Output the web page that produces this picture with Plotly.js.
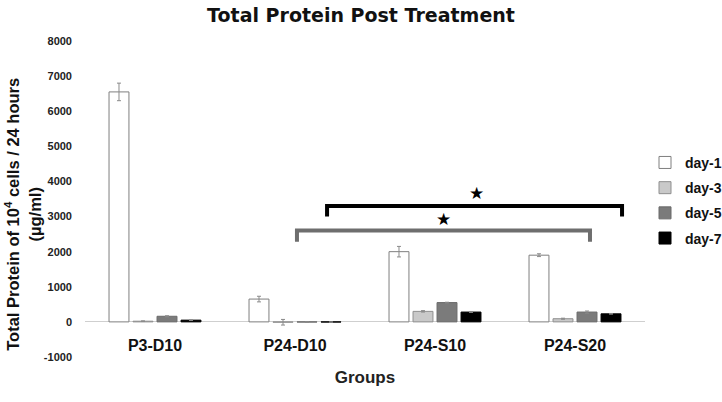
<!DOCTYPE html>
<html>
<head>
<meta charset="utf-8">
<script src="https://cdn.plot.ly/plotly-3.0.1.min.js"></script>
<style>html,body{margin:0;padding:0;background:#fff;}#chart{width:722px;height:402px;}</style>
</head>
<body>
<div id="chart"></div>
<script>
const groups = ["P3-D10", "P24-D10", "P24-S10", "P24-S20"];
const seriesNames = ["day-1", "day-3", "day-5", "day-7"];
const day1 = [6550, 650, 2000, 1900];
const day1Err = [250, 80, 150, 40];
const day3 = [20, -10, 300, 90];
const day3Err = [10, 80, 20, 15];
const day5 = [160, -5, 550, 280];
const day5Err = [15, 5, 10, 30];
const day7 = [50, -5, 280, 230];
const day7Err = [10, 5, 10, 10];
const yTicks = [-1000, 0, 1000, 2000, 3000, 4000, 5000, 6000, 7000, 8000];

const values = [day1, day3, day5, day7];
const errs = [day1Err, day3Err, day5Err, day7Err];
const fills = ["#ffffff", "#c9c9c9", "#7b7b7b", "#000000"];
const lines = ["#7f7f7f", "#8f8f8f", "#6a6a6a", "#000000"];

const FONT = "Liberation Sans, Arial, sans-serif";

const traces = seriesNames.map((name, i) => ({
  type: "bar",
  name: name,
  x: groups,
  y: values[i],
  legendgroup: name,
  marker: {color: fills[i], line: {color: lines[i], width: 1}},
  error_y: {type: "data", array: errs[i], visible: true, color: "#8a8a8a", thickness: 1, width: 2}
}));

const layout = {
  width: 722, height: 402,
  margin: {l: 85, r: 77, t: 41, b: 45, autoexpand: false},
  paper_bgcolor: "#fff", plot_bgcolor: "#fff",
  barmode: "group", bargap: 0.314, bargroupgap: 0.17,
  showlegend: true,
  title: {text: "Total Protein Post Treatment", x: 0.5, xanchor: "center", y: 0.962, yanchor: "middle",
          font: {family: "DejaVu Sans", size: 19, weight: "bold", color: "#111"}},
  xaxis: {
    type: "category", anchor: "free", position: 0.073,
    showline: false, showgrid: false, zeroline: false, ticks: "",
    tickfont: {family: FONT, size: 16, weight: "bold", color: "#111"},
    title: {text: "Groups", font: {family: FONT, size: 17, weight: "bold", color: "#222"}, standoff: 18}
  },
  yaxis: {
    range: [-1000, 8000], tickvals: yTicks, ticktext: yTicks.map(String),
    showgrid: false, showline: false, ticks: "", ticklabelstandoff: 12,
    zeroline: true, zerolinecolor: "#cfcfcf", zerolinewidth: 1,
    tickfont: {family: FONT, size: 11, weight: "bold", color: "#222"}
  },
  legend: {x: 1.0, xanchor: "left", y: 0.665, yanchor: "top",
           font: {family: FONT, size: 14, weight: "bold", color: "#111"},
           traceorder: "grouped", tracegroupgap: 4, itemwidth: 30},
  shapes: [
    {type: "path", xref: "x", yref: "y", path: "M 1.229,3000 L 1.229,3300 L 3.336,3300 L 3.336,3000",
     line: {color: "#000", width: 4}},
    {type: "path", xref: "x", yref: "y", path: "M 1.014,2280 L 1.014,2600 L 3.107,2600 L 3.107,2280",
     line: {color: "#6e6e6e", width: 4}}
  ],
  annotations: [
    {x: 2.293, y: 3680, xref: "x", yref: "y", text: "★", showarrow: false, font: {family: "DejaVu Sans", size: 17, color: "#000"}},
    {x: 2.064, y: 2930, xref: "x", yref: "y", text: "★", showarrow: false, font: {family: "DejaVu Sans", size: 17, color: "#000"}},
    {x: 0, y: 0.45, xref: "paper", yref: "paper", xanchor: "center", yanchor: "middle",
     text: "Total Protein of 10<sup>4</sup> cells / 24 hours<br>(µg/ml)", showarrow: false, textangle: -90,
     font: {family: FONT, size: 16.5, weight: "bold", color: "#111"}}
  ]
};
layout.annotations[2].x = (23 - 85) / 560;

Plotly.newPlot("chart", traces, layout, {displayModeBar: false, staticPlot: true});
</script>
</body>
</html>
